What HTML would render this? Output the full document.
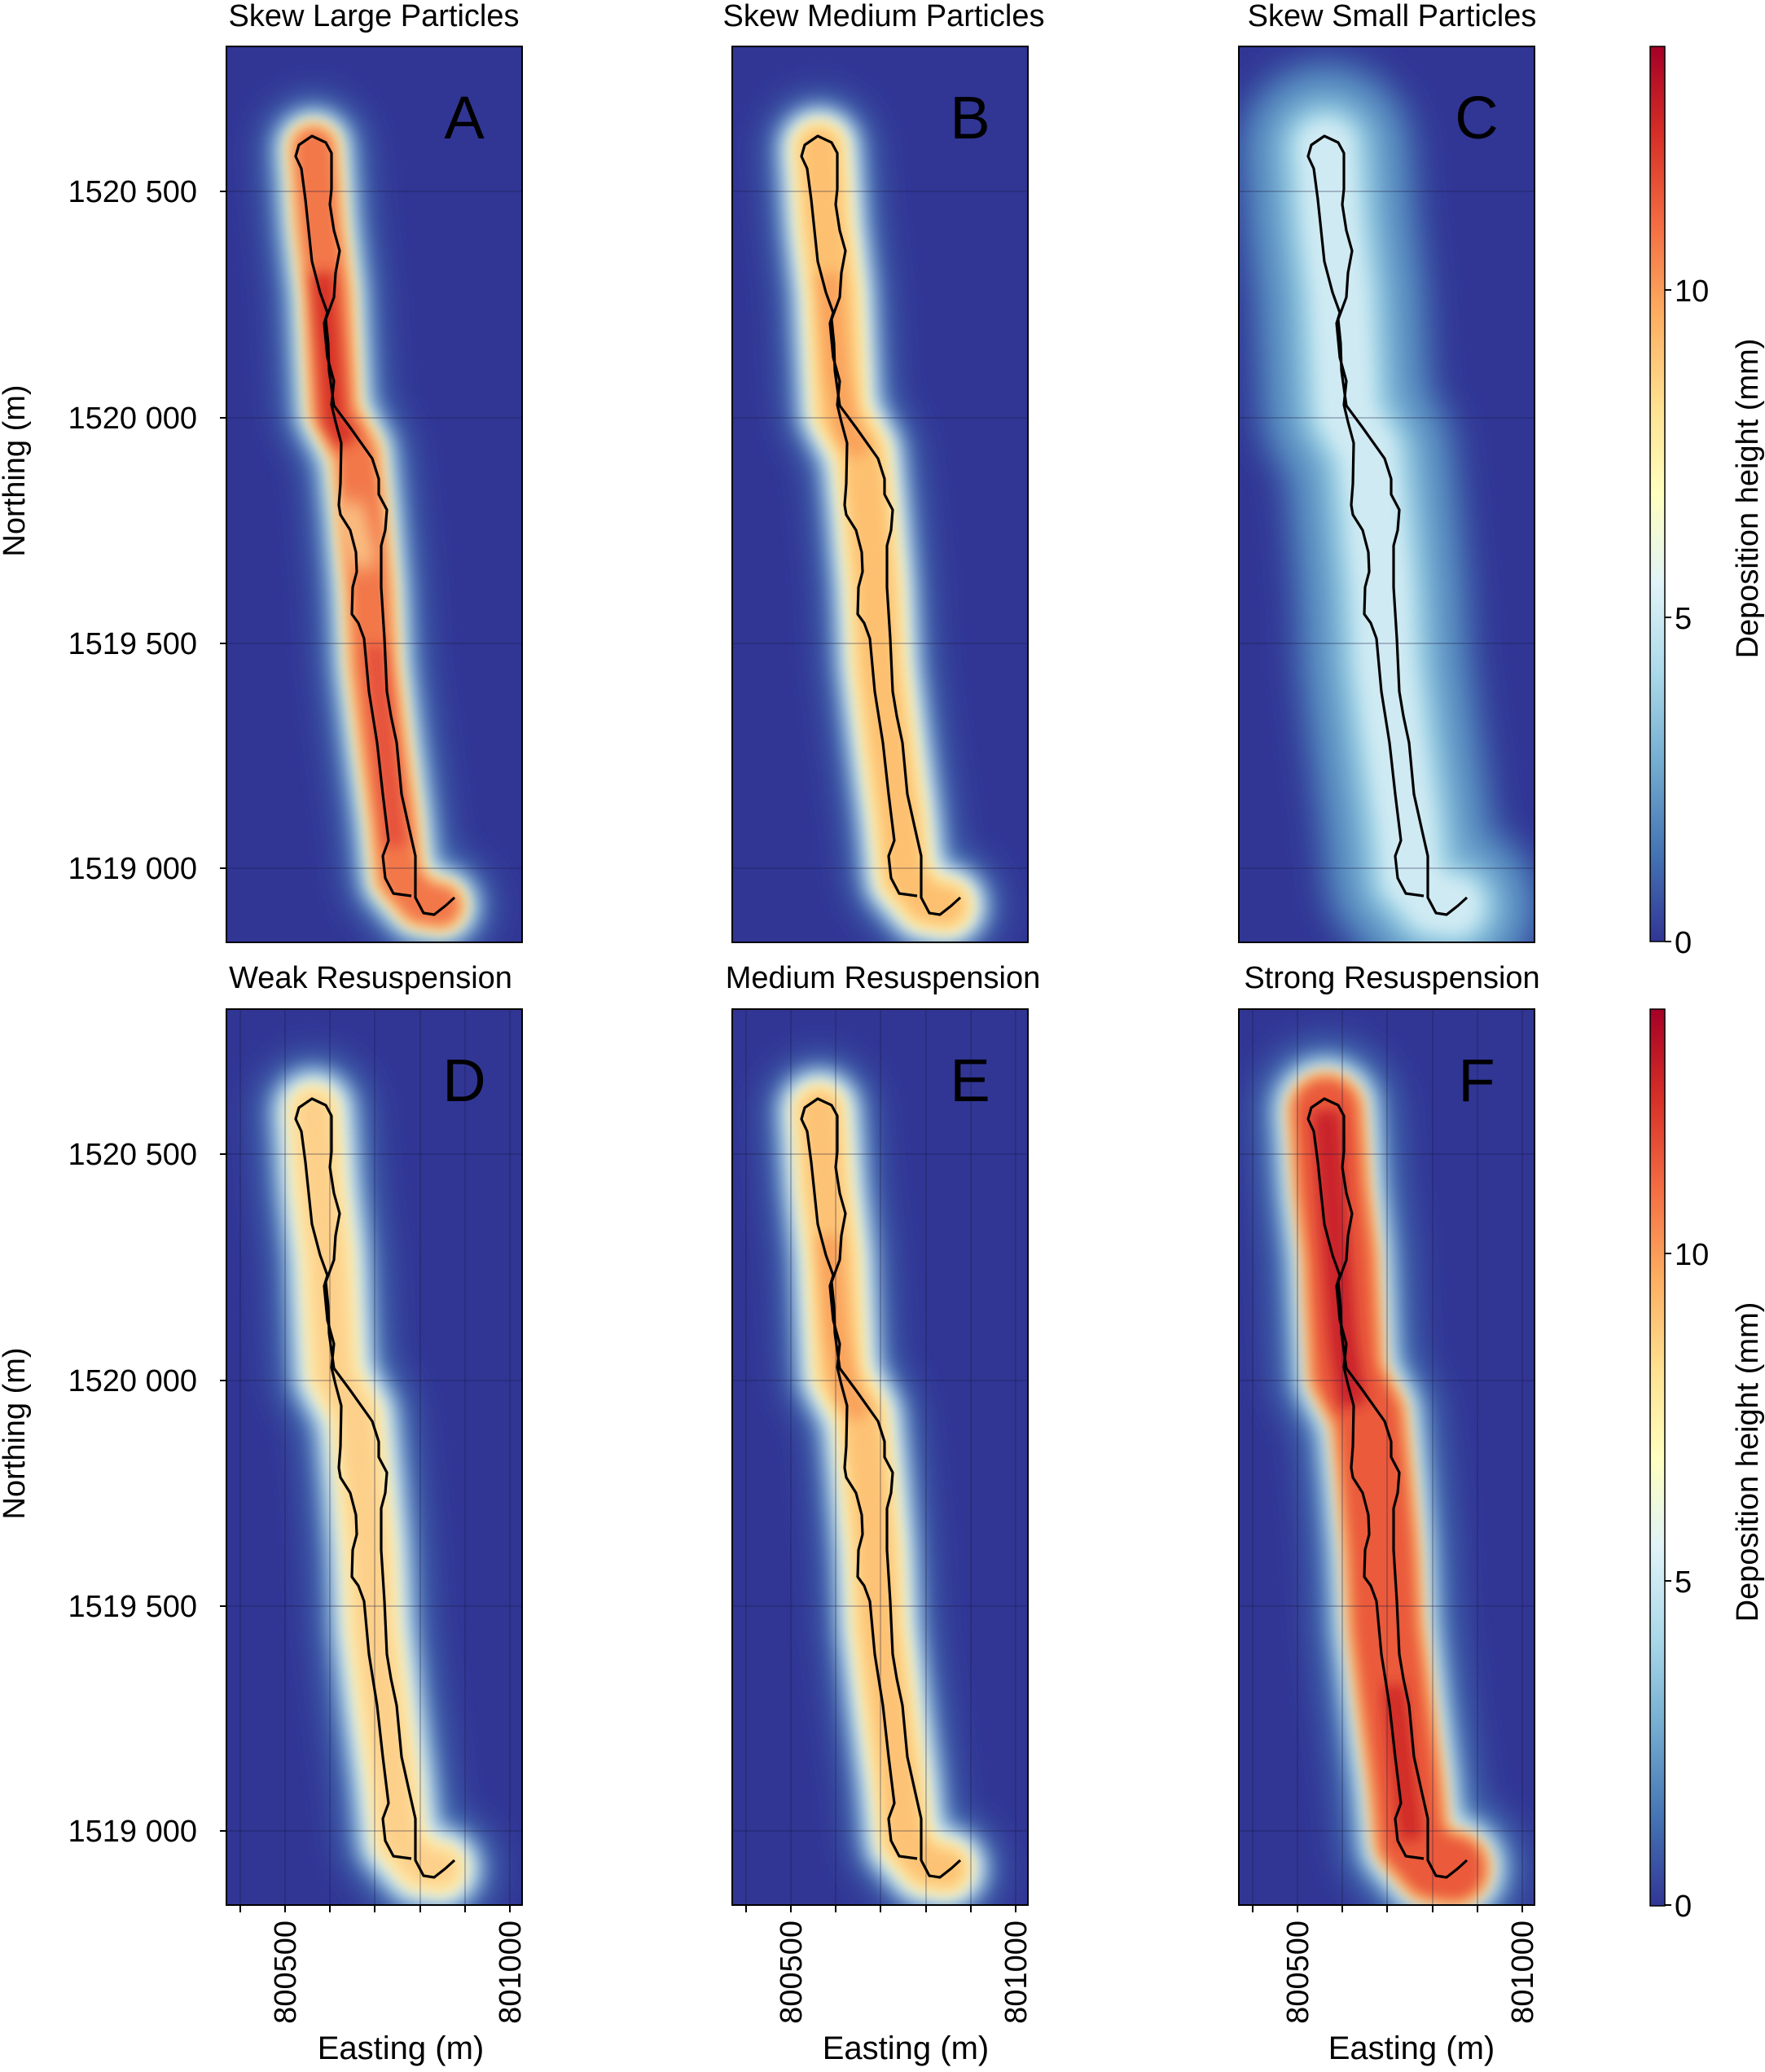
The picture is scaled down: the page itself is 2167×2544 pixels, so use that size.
<!DOCTYPE html>
<html><head><meta charset="utf-8"><style>
html,body{margin:0;padding:0;background:#fff}
svg text{font-family:"Liberation Sans",sans-serif;fill:#000}
</style></head><body>
<svg width="2167" height="2539" viewBox="0 0 2167 2539" xmlns="http://www.w3.org/2000/svg">
<defs>
<linearGradient id="cb" x1="0" y1="1" x2="0" y2="0">
<stop offset="0" stop-color="#313695"/><stop offset="0.1" stop-color="#4575b4"/><stop offset="0.2" stop-color="#74add1"/><stop offset="0.3" stop-color="#abd9e9"/><stop offset="0.4" stop-color="#e0f3f8"/><stop offset="0.5" stop-color="#ffffbf"/><stop offset="0.6" stop-color="#fee090"/><stop offset="0.7" stop-color="#fdae61"/><stop offset="0.8" stop-color="#f46d43"/><stop offset="0.9" stop-color="#d73027"/><stop offset="1" stop-color="#a50026"/>
</linearGradient>
<filter id="b20" x="-1" y="-0.3" width="3" height="1.6"><feGaussianBlur stdDeviation="20"/></filter>
<filter id="b12" x="-1" y="-0.3" width="3" height="1.6"><feGaussianBlur stdDeviation="12"/></filter>
<filter id="b8" x="-1" y="-0.3" width="3" height="1.6"><feGaussianBlur stdDeviation="8"/></filter>
<clipPath id="cp"><rect x="0" y="0" width="363" height="1100"/></clipPath>
<path id="ctr" d="M107,125 L114,220 L124,302 L128,379 L132,449 L159,499 L167,575 L175,664 L180,760 L192,855 L205,950 L212,1020 L239,1051 L262,1055" fill="none" stroke-linejoin="round" stroke-linecap="round"/>
<path id="trk" d="M227,1043 L205,1040 L195,1021 L192,994 L199,975 L192,918 L185,855 L175,792 L169,727 L162,708 L154,697 L155,664 L160,645 L159,621 L152,594 L140,575 L138,563 L140,537 L141,487 L134,461 L129,440 L132,411 L124,382 L120,340 L124,327 L115,302 L105,264 L97,188 L92,150 L85,135 L89,121 L105,110 L122,118 L129,131 L129,175 L127,194 L132,226 L139,251 L134,278 L132,308 L122,335 L125,365 L126,398 L132,441 L152,468 L179,506 L187,531 L187,550 L197,569 L195,594 L190,613 L190,664 L194,727 L197,792 L202,822 L209,855 L215,918 L225,963 L232,994 L232,1045 L242,1064 L255,1066 L269,1055 L280,1045" fill="none" stroke="#000" stroke-width="3.2" stroke-linejoin="round"/>
<g id="hgrid" stroke="#1a1a40" stroke-opacity="0.35" stroke-width="1.5">
<line x1="0" y1="178" x2="363" y2="178"/><line x1="0" y1="456" x2="363" y2="456"/><line x1="0" y1="733" x2="363" y2="733"/><line x1="0" y1="1009" x2="363" y2="1009"/>
</g>
<g id="vgrid" stroke="#1a1a40" stroke-opacity="0.35" stroke-width="1.5">
<line x1="17" y1="0" x2="17" y2="1100"/><line x1="72" y1="0" x2="72" y2="1100"/><line x1="127" y1="0" x2="127" y2="1100"/><line x1="182" y1="0" x2="182" y2="1100"/><line x1="238" y1="0" x2="238" y2="1100"/><line x1="293" y1="0" x2="293" y2="1100"/><line x1="348" y1="0" x2="348" y2="1100"/>
</g>
</defs>

<g font-size="38" text-anchor="middle">
<text x="459" y="32">Skew Large Particles</text>
<text x="1085" y="32">Skew Medium Particles</text>
<text x="1709" y="32">Skew Small Particles</text>
<text x="455" y="1213">Weak Resuspension</text>
<text x="1084" y="1213">Medium Resuspension</text>
<text x="1709" y="1213">Strong Resuspension</text>
</g>

<!-- Panel A -->
<g transform="translate(278,57)"><g clip-path="url(#cp)">
<rect width="363" height="1100" fill="#313695"/>
<use href="#ctr" stroke="#4575b4" stroke-width="130" filter="url(#b20)"/>
<use href="#ctr" stroke="#c8e8f1" stroke-width="95" filter="url(#b12)"/>
<use href="#ctr" stroke="#fee090" stroke-width="70" filter="url(#b8)"/>
<use href="#ctr" stroke="#f2774a" stroke-width="52" filter="url(#b8)"/>
<path d="M118,278 L126,373 L132,459 L150,487" stroke="#d73027" stroke-width="28" fill="none" filter="url(#b8)"/>
<path d="M182,735 L195,868 L208,982" stroke="#e5503a" stroke-width="24" fill="none" filter="url(#b8)"/>
<path d="M150,560 L170,640" stroke="#fbc98a" stroke-width="30" fill="none" filter="url(#b12)"/>
<use href="#hgrid"/><use href="#trk"/>
</g><rect width="363" height="1100" fill="none" stroke="#000" stroke-width="2"/>
<text x="292" y="113" font-size="74" text-anchor="middle">A</text></g>

<!-- Panel B -->
<g transform="translate(899,57)"><g clip-path="url(#cp)">
<rect width="363" height="1100" fill="#313695"/>
<use href="#ctr" stroke="#4575b4" stroke-width="135" filter="url(#b20)"/>
<use href="#ctr" stroke="#d3edf4" stroke-width="100" filter="url(#b12)"/>
<use href="#ctr" stroke="#fee7a0" stroke-width="72" filter="url(#b8)"/>
<use href="#ctr" stroke="#fdc070" stroke-width="48" filter="url(#b8)"/>
<path d="M118,278 L128,400 L140,470 L160,500" stroke="#f9a05a" stroke-width="26" fill="none" filter="url(#b8)"/>
<use href="#hgrid"/><use href="#trk"/>
</g><rect width="363" height="1100" fill="none" stroke="#000" stroke-width="2"/>
<text x="292" y="113" font-size="74" text-anchor="middle">B</text></g>

<!-- Panel C -->
<g transform="translate(1521,57)"><g clip-path="url(#cp)">
<rect width="363" height="1100" fill="#313695"/>
<use href="#ctr" stroke="#4575b4" stroke-width="220" filter="url(#b20)"/>
<use href="#ctr" stroke="#74add1" stroke-width="160" filter="url(#b20)"/>
<use href="#ctr" stroke="#abd9e9" stroke-width="100" filter="url(#b12)"/>
<use href="#ctr" stroke="#cfeaf3" stroke-width="65" filter="url(#b8)"/>
<use href="#hgrid"/><use href="#trk"/>
</g><rect width="363" height="1100" fill="none" stroke="#000" stroke-width="2"/>
<text x="292" y="113" font-size="74" text-anchor="middle">C</text></g>

<!-- Panel D -->
<g transform="translate(278,1239)"><g clip-path="url(#cp)">
<rect width="363" height="1100" fill="#313695"/>
<use href="#ctr" stroke="#4575b4" stroke-width="140" filter="url(#b20)"/>
<use href="#ctr" stroke="#cfeaf3" stroke-width="100" filter="url(#b12)"/>
<use href="#ctr" stroke="#fee9a8" stroke-width="68" filter="url(#b8)"/>
<use href="#ctr" stroke="#fdd08a" stroke-width="42" filter="url(#b8)"/>
<use href="#vgrid"/><use href="#hgrid"/><use href="#trk"/>
</g><rect width="363" height="1100" fill="none" stroke="#000" stroke-width="2"/>
<text x="292" y="113" font-size="74" text-anchor="middle">D</text></g>

<!-- Panel E -->
<g transform="translate(899,1239)"><g clip-path="url(#cp)">
<rect width="363" height="1100" fill="#313695"/>
<use href="#ctr" stroke="#4575b4" stroke-width="135" filter="url(#b20)"/>
<use href="#ctr" stroke="#d3edf4" stroke-width="100" filter="url(#b12)"/>
<use href="#ctr" stroke="#fee7a0" stroke-width="70" filter="url(#b8)"/>
<use href="#ctr" stroke="#fdc274" stroke-width="46" filter="url(#b8)"/>
<path d="M118,278 L128,400 L140,470 L160,500" stroke="#f9a05a" stroke-width="26" fill="none" filter="url(#b8)"/>
<use href="#vgrid"/><use href="#hgrid"/><use href="#trk"/>
</g><rect width="363" height="1100" fill="none" stroke="#000" stroke-width="2"/>
<text x="292" y="113" font-size="74" text-anchor="middle">E</text></g>

<!-- Panel F -->
<g transform="translate(1521,1239)"><g clip-path="url(#cp)">
<rect width="363" height="1100" fill="#313695"/>
<use href="#ctr" stroke="#4575b4" stroke-width="175" filter="url(#b20)"/>
<use href="#ctr" stroke="#c8e8f1" stroke-width="130" filter="url(#b12)"/>
<use href="#ctr" stroke="#fdc070" stroke-width="100" filter="url(#b8)"/>
<use href="#ctr" stroke="#ea5a3a" stroke-width="80" filter="url(#b8)"/>
<path d="M107,125 L118,278 L128,411 L140,487" stroke="#c9242a" stroke-width="34" fill="none" filter="url(#b8)"/>
<path d="M190,830 L205,964 L212,1020" stroke="#d02a28" stroke-width="28" fill="none" filter="url(#b8)"/>
<use href="#vgrid"/><use href="#hgrid"/><use href="#trk"/>
</g><rect width="363" height="1100" fill="none" stroke="#000" stroke-width="2"/>
<text x="292" y="113" font-size="74" text-anchor="middle">F</text></g>

<g stroke="#000" stroke-width="2">
<line x1="270" y1="235" x2="278" y2="235"/><line x1="270" y1="513" x2="278" y2="513"/><line x1="270" y1="790" x2="278" y2="790"/><line x1="270" y1="1066" x2="278" y2="1066"/>
<line x1="270" y1="1417" x2="278" y2="1417"/><line x1="270" y1="1695" x2="278" y2="1695"/><line x1="270" y1="1972" x2="278" y2="1972"/><line x1="270" y1="2248" x2="278" y2="2248"/>
</g>
<g font-size="38" text-anchor="end">
<text x="242" y="248">1520 500</text><text x="242" y="526">1520 000</text><text x="242" y="803">1519 500</text><text x="242" y="1079">1519 000</text>
<text x="242" y="1430">1520 500</text><text x="242" y="1708">1520 000</text><text x="242" y="1985">1519 500</text><text x="242" y="2261">1519 000</text>
</g>
<text transform="translate(30,578) rotate(-90)" font-size="38" text-anchor="middle">Northing (m)</text>
<text transform="translate(30,1760) rotate(-90)" font-size="38" text-anchor="middle">Northing (m)</text>

<g stroke="#000" stroke-width="2">
<g transform="translate(278,2339)"><line x1="17" y1="0" x2="17" y2="9"/><line x1="72" y1="0" x2="72" y2="9"/><line x1="127" y1="0" x2="127" y2="9"/><line x1="182" y1="0" x2="182" y2="9"/><line x1="238" y1="0" x2="238" y2="9"/><line x1="293" y1="0" x2="293" y2="9"/><line x1="348" y1="0" x2="348" y2="9"/></g>
<g transform="translate(899,2339)"><line x1="17" y1="0" x2="17" y2="9"/><line x1="72" y1="0" x2="72" y2="9"/><line x1="127" y1="0" x2="127" y2="9"/><line x1="182" y1="0" x2="182" y2="9"/><line x1="238" y1="0" x2="238" y2="9"/><line x1="293" y1="0" x2="293" y2="9"/><line x1="348" y1="0" x2="348" y2="9"/></g>
<g transform="translate(1521,2339)"><line x1="17" y1="0" x2="17" y2="9"/><line x1="72" y1="0" x2="72" y2="9"/><line x1="127" y1="0" x2="127" y2="9"/><line x1="182" y1="0" x2="182" y2="9"/><line x1="238" y1="0" x2="238" y2="9"/><line x1="293" y1="0" x2="293" y2="9"/><line x1="348" y1="0" x2="348" y2="9"/></g>
</g>
<g font-size="38" text-anchor="end">
<text transform="translate(363,2358) rotate(-90)">800500</text><text transform="translate(639,2358) rotate(-90)">801000</text>
<text transform="translate(984,2358) rotate(-90)">800500</text><text transform="translate(1260,2358) rotate(-90)">801000</text>
<text transform="translate(1606,2358) rotate(-90)">800500</text><text transform="translate(1882,2358) rotate(-90)">801000</text>
</g>
<g font-size="40" text-anchor="middle">
<text x="492" y="2528">Easting (m)</text><text x="1112" y="2528">Easting (m)</text><text x="1733" y="2528">Easting (m)</text>
</g>

<rect x="2026" y="57" width="18" height="1099" fill="url(#cb)" stroke="#000" stroke-width="1.5"/>
<rect x="2026" y="1239" width="18" height="1101" fill="url(#cb)" stroke="#000" stroke-width="1.5"/>
<g stroke="#000" stroke-width="2">
<line x1="2044" y1="1156" x2="2052" y2="1156"/><line x1="2044" y1="758" x2="2052" y2="758"/><line x1="2044" y1="356" x2="2052" y2="356"/>
<line x1="2044" y1="2339" x2="2052" y2="2339"/><line x1="2044" y1="1941" x2="2052" y2="1941"/><line x1="2044" y1="1539" x2="2052" y2="1539"/>
</g>
<g font-size="38">
<text x="2056" y="1170">0</text><text x="2056" y="772">5</text><text x="2056" y="370">10</text>
<text x="2056" y="2353">0</text><text x="2056" y="1955">5</text><text x="2056" y="1553">10</text>
</g>
<text transform="translate(2158,612) rotate(-90)" font-size="38" text-anchor="middle">Deposition height (mm)</text>
<text transform="translate(2158,1795) rotate(-90)" font-size="38" text-anchor="middle">Deposition height (mm)</text>
</svg>
</body></html>
